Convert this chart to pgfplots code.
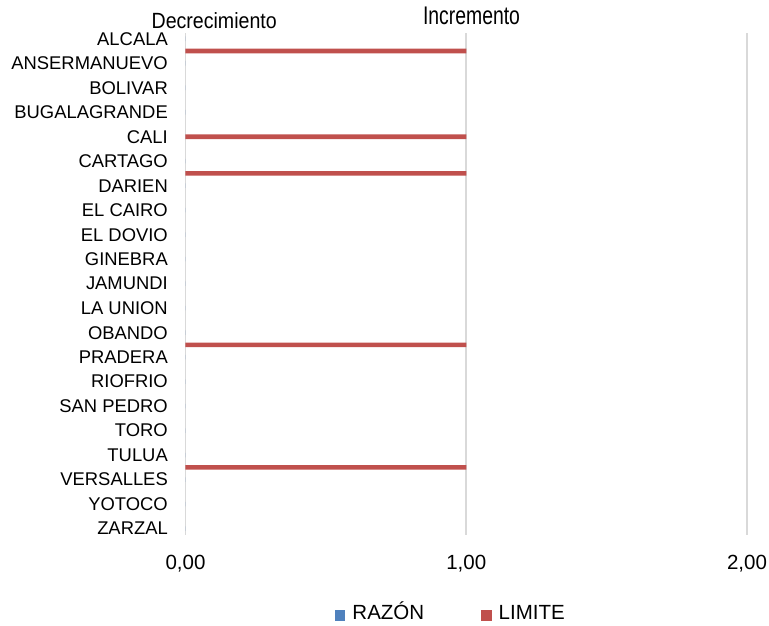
\documentclass[border=0pt]{standalone}
\usepackage{fontspec}
\setmainfont{Liberation Sans}
\usepackage{graphicx}
\usepackage{pgfplots}
\pgfplotsset{compat=1.18}
\definecolor{razon}{HTML}{4F81BD}
\definecolor{limite}{HTML}{C0504D}
\definecolor{gridc}{HTML}{D9D9D9}
\begin{document}
\begin{tikzpicture}[x=1pt,y=1pt]
\useasboundingbox (0,0) rectangle (769,-626);
\begin{axis}[
  at={(185.5pt,-535pt)}, anchor=south west,
  scale only axis, width=561.5pt, height=502pt,
  xmin=0, xmax=2, ymin=-0.233, ymax=20.26, y dir=reverse,
  xtick={0,1,2}, xticklabels={{0,00},{1,00},{2,00}},
  ytick={0,1,...,20},
  yticklabels={ALCALA,ANSERMANUEVO,BOLIVAR,BUGALAGRANDE,CALI,CARTAGO,DARIEN,EL CAIRO,EL DOVIO,GINEBRA,JAMUNDI,LA UNION,OBANDO,PRADERA,RIOFRIO,SAN PEDRO,TORO,TULUA,VERSALLES,YOTOCO,ZARZAL},
  axis line style={draw=none}, major tick length=0pt,
  xmajorgrids, ymajorgrids=false, grid style={gridc, line width=1.8pt},
  xticklabel style={anchor=base, yshift=-34pt, font=\fontsize{20.5}{22}\selectfont},
  yticklabel style={anchor=east, inner sep=0pt, xshift=-17.5pt, font=\fontsize{18.4}{20}\selectfont},
  legend style={draw=none, fill=none, inner sep=0pt, outer sep=0pt,
    at={(0.2662,-0.1604)}, anchor=west, legend columns=2,
    font=\fontsize{20.5}{22}\selectfont,
    nodes={inner sep=0pt, text height=0.75em, text depth=0pt},
    /tikz/every odd column/.append style={column sep=7pt},
    /tikz/every even column/.append style={column sep=57pt}},
]
\addplot[xbar, bar shift=0pt, bar width=4.6pt, fill=razon, draw=none,
  legend image code/.code={\fill[razon] (0pt,-5.5pt) rectangle (10.5pt,5.5pt);}]
  coordinates {(0,0) (0,1) (0,2) (0,3) (0,4) (0,5) (0,6) (0,7) (0,8) (0,9) (0,10)
               (0,11) (0,12) (0,13) (0,14) (0,15) (0,16) (0,17) (0,18) (0,19) (0,20)};
\addlegendentry{RAZÓN}
\addplot[xbar, bar shift=0pt, bar width=4.6pt, fill=limite, draw=none,
  legend image code/.code={\fill[limite] (0pt,-5.5pt) rectangle (10.5pt,5.5pt);}]
  coordinates {(1,0.5) (1,4) (1,5.5) (1,12.5) (1,17.5)};
\addlegendentry{LIMITE}
\end{axis}
\node[anchor=base, inner sep=0pt, font=\fontsize{22}{24}\selectfont] at (214.2,-28.3) {\scalebox{0.89}[1]{Decrecimiento}};
\node[anchor=base, inner sep=0pt, font=\fontsize{25.5}{27}\selectfont] at (471.5,-25) {\scalebox{0.76}[1]{Incremento}};
\end{tikzpicture}
\end{document}
